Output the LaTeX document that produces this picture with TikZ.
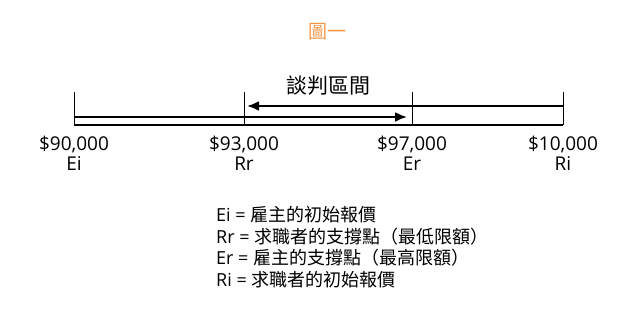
\documentclass[tikz,border=0pt]{standalone}
\usepackage{fontspec}
\setmainfont{Open Sans}
\newfontfamily\cjk{Noto Sans CJK TC}
\usepackage{xcolor}
\usepackage{tikz}
\usetikzlibrary{arrows.meta,positioning}

\definecolor{titleorange}{RGB}{247,150,70}

\begin{document}
\begin{tikzpicture}[
  x=1pt, y=-1pt,
  font=\fontsize{18}{22}\selectfont,
  >={Latex[length=12pt,width=10pt]},
  tick/.style={line width=1pt},
  flow/.style={->, line width=2.2pt},
  scale line/.style={line width=1.5pt},
  val/.style={anchor=base, inner sep=0pt, font=\fontsize{19}{22}\selectfont},
  leg/.style={anchor=base west, inner sep=0pt}
]
\useasboundingbox (0,0) rectangle (640,324);

% ── Title ──
\node[text=titleorange, font=\cjk\fontsize{19}{22}\selectfont] (title) at (327,32) {圖一};

% ── Scale: four ticks ──
\coordinate (ei) at (74,125);
\coordinate (rr) at (244,125);
\coordinate (er) at (412,125);
\coordinate (ri) at (563,125);
\foreach \p in {ei,rr,er,ri}
  \draw[tick] (\p) -- ++(0,-33) coordinate (\p top);

\node[font=\cjk\fontsize{21}{24}\selectfont] (range) at (328,86) {談判區間};

% ── Lines and arrows ──
\draw[scale line] (ei) -- (ri);
\draw[flow] ([yshift=8pt]ei) -- ([yshift=8pt, xshift=-5pt]er);
\draw[flow] ([yshift=19pt]ri) -- ([yshift=19pt, xshift=3pt]rr);

% ── Values under the ticks ──
\node[val] (eiv) at ([yshift=-25pt]ei) {\$90,000};
\node[val] (rrv) at ([yshift=-25pt]rr) {\$93,000};
\node[val] (erv) at ([yshift=-25pt]er) {\$97,000};
\node[val] (riv) at ([yshift=-25pt]ri) {\$10,000};
\node[val] (eil) at ([yshift=-45pt]ei) {Ei};
\node[val] (rrl) at ([yshift=-45pt]rr) {Rr};
\node[val] (erl) at ([yshift=-45pt]er) {Er};
\node[val] (ril) at ([yshift=-45pt]ri) {Ri};

% ── Legend ──
\node[leg] (leg1) at (216,221) {Ei = {\cjk 雇主的初始報價}};
\node[leg] (leg2) at (216,243) {Rr = {\cjk 求職者的支撐點（最低限額）}};
\node[leg] (leg3) at (216,264.5) {Er = {\cjk 雇主的支撐點（最高限額）}};
\node[leg] (leg4) at (216,286) {Ri = {\cjk 求職者的初始報價}};

\end{tikzpicture}
\end{document}
